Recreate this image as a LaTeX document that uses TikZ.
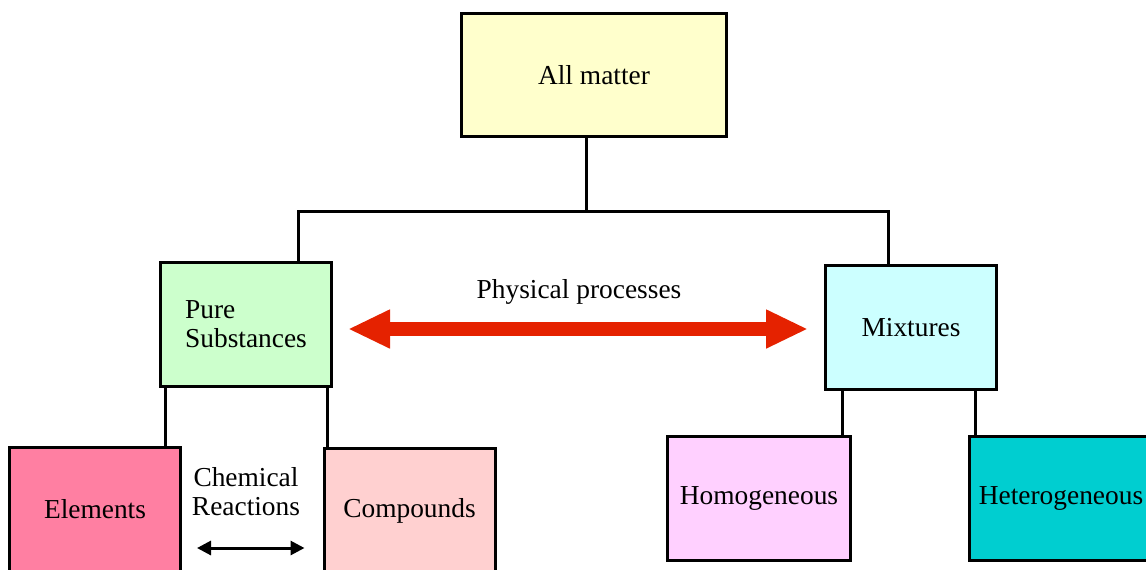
\documentclass[tikz,border=0pt]{standalone}
\usepackage{fontspec}
\setmainfont{Liberation Serif}
\usepackage{tikz}
\usetikzlibrary{arrows.meta,calc}

\definecolor{AllCol}{HTML}{FFFFCC}
\definecolor{PureCol}{HTML}{CCFFCC}
\definecolor{MixCol}{HTML}{CCFFFF}
\definecolor{ElemCol}{HTML}{FF7FA2}
\definecolor{CompCol}{HTML}{FFD0D0}
\definecolor{HomoCol}{HTML}{FFD0FF}
\definecolor{HetCol}{HTML}{00CED0}
\definecolor{PhysRed}{HTML}{E52200}

\newcommand\droplink[2]{% from point, to node
  \draw (#1) -- (#1 |- #2.north);
}

\begin{document}
\begin{tikzpicture}[x=0.5pt,y=-0.5pt]
\clip (0,0) rectangle (1146,569);

		\tikzstyle{every path}=[line width=1.5pt]
		\tikzstyle{matbox}=[draw,inner sep=0pt,minimum width=85.5pt,minimum height=62pt,
								font=\fontsize{13.7}{14.5}\selectfont]
		\tikzstyle{matlabel}=[inner sep=0pt,align=center,font=\fontsize{13.7}{14.5}\selectfont]
		\tikzstyle{PhysSty}=[color=PhysRed,line width=7pt,{Triangle[length=21pt,width=18pt]}-{Triangle[length=21pt,width=18pt]}]
		\tikzstyle{ReacSty}=[{Triangle[length=7pt,width=7pt]}-{Triangle[length=7pt,width=7pt]}]

\node[matbox,fill=AllCol,minimum width=132.5pt,minimum height=61.5pt] at (594,75) (allm) {All matter};
\node[matbox,fill=PureCol,align=left] at (246,324.5) (pure) {Pure\\Substances};
\node[matbox,fill=MixCol] at (911,327.5) (mix) {Mixtures};
\node[matbox,fill=ElemCol] at (95,509.5) (elem) {Elements};
\node[matbox,fill=CompCol] at (409.5,510.5) (cmpd) {Compounds};
\node[matbox,fill=HomoCol,minimum width=91.5pt] at (759,498.5) (homo) {Homogeneous};
\node[matbox,fill=HetCol,minimum width=91.5pt] at (1061,498.5) (hetr) {Heterogeneous};

\coordinate (split) at (586,211);
\coordinate (phys) at (579,329);
\coordinate (rxn) at (250,548);

% top split
\draw (allm.south -| split) -- (split);
\draw ($(pure.north west)!0.8!(pure.north east)$) |- (split) -| ($(mix.north west)!0.37!(mix.north east)$);

% lower branches
\droplink{[xshift=3pt]pure.south west}{elem}
\droplink{[xshift=-3pt]pure.south east}{cmpd}
\droplink{[xshift=9pt]mix.south west}{homo}
\droplink{[xshift=-11.5pt]mix.south east}{hetr}

\node[matlabel] at (579,292) (physlbl) {Physical processes};
\node[matlabel] at (246,492) (rxnlbl) {Chemical\\Reactions};

\draw[PhysSty] ([xshift=7.5pt]pure.east |- phys) -- ([xshift=-8pt]mix.west |- phys);
\draw[ReacSty] ([xshift=7.5pt]elem.east |- rxn) -- ([xshift=-9pt]cmpd.west |- rxn);

\end{tikzpicture}
\end{document}
